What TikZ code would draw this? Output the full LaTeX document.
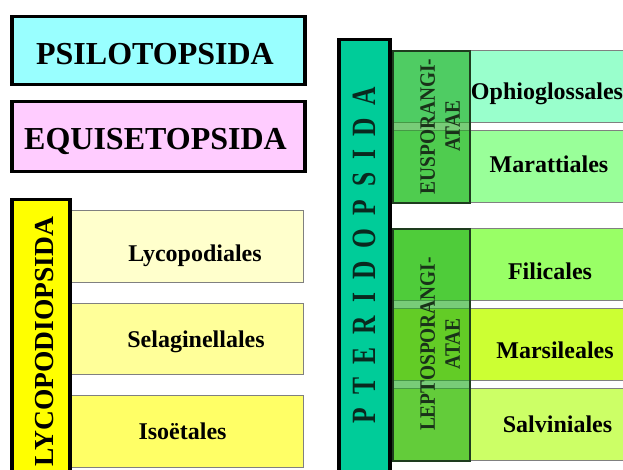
\documentclass[tikz,border=0pt]{standalone}
\usepackage{fontspec}
\setmainfont{Liberation Serif}
\usepackage{graphicx}

\definecolor{psilocol}{RGB}{153,255,255}
\definecolor{equicol}{RGB}{255,204,255}
\definecolor{lycocol}{RGB}{255,255,0}
\definecolor{lycoAcol}{RGB}{255,255,204}
\definecolor{lycoBcol}{RGB}{255,255,153}
\definecolor{lycoCcol}{RGB}{255,255,102}
\definecolor{ptercol}{RGB}{0,204,153}
\definecolor{ophiocol}{RGB}{153,255,204}
\definecolor{maracol}{RGB}{153,255,153}
\definecolor{filicol}{RGB}{153,255,102}
\definecolor{marsicol}{RGB}{204,255,51}
\definecolor{salvcol}{RGB}{204,255,102}
\definecolor{subcol}{RGB}{30,170,30}
\definecolor{subline}{RGB}{30,60,30}
\definecolor{subtext}{RGB}{25,50,25}
\definecolor{ptertext}{RGB}{10,40,30}

\newcommand{\sqz}[2]{\scalebox{#1}[1]{#2}}

\tikzset{
  classbox/.style={draw=black,line width=3.5pt,anchor=north west,inner sep=0pt},
  ordbox/.style={draw=gray,line width=0.8pt,anchor=north west,inner sep=0pt},
  subbox/.style={draw=subline,line width=2pt,fill=subcol,fill opacity=.6,anchor=north west,inner sep=0pt},
  bigtext/.style={font=\fontsize{32}{38}\selectfont\bfseries,anchor=base,inner sep=0pt},
  ordtext/.style={font=\fontsize{24}{28}\selectfont\bfseries,anchor=base,inner sep=0pt},
  subtext/.style={font=\fontsize{22}{25}\selectfont\bfseries,text=subtext,rotate=90,align=center,inner sep=0pt}
}

\begin{document}
\begin{tikzpicture}[x=1pt,y=-1pt]
\useasboundingbox (0,0) rectangle (623,470);
\clip (0,0) rectangle (623,470);

\node[name=psilo,classbox,fill=psilocol,minimum width=293pt,minimum height=68pt] at (10,15) {};
\node[name=equi,classbox,fill=equicol,minimum width=293pt,minimum height=70pt] at (10,100) {};
\node[name=psiloT,bigtext] at (155,65) {PSILOTOPSIDA};
\node[name=equiT,bigtext] at (155.5,150) {EQUISETOPSIDA};

\node[name=lycoA,ordbox,fill=lycoAcol,minimum width=235pt,minimum height=72pt] at (68,210) {};
\node[name=lycoB,ordbox,fill=lycoBcol,minimum width=235pt,minimum height=71pt] at (68,303) {};
\node[name=lycoC,ordbox,fill=lycoCcol,minimum width=235pt,minimum height=72pt] at (68,395) {};
\node[name=lyco,classbox,fill=lycocol,minimum width=58pt,minimum height=290pt] at (10,198) {};
\node[name=lycoT,font=\fontsize{27.5}{32}\selectfont\bfseries,rotate=90,anchor=base,inner sep=0pt] at (53,341.5) {LYCOPODIOPSIDA};
\node[name=lycoAT,ordtext] at (195,261) {Lycopodiales};
\node[name=lycoBT,ordtext] at (196,347) {Selaginellales};
\node[name=lycoCT,ordtext] at (182.5,439) {Isoëtales};

\node[name=ophio,ordbox,fill=ophiocol,minimum width=240pt,minimum height=72pt] at (392,50) {};
\node[name=mara,ordbox,fill=maracol,minimum width=240pt,minimum height=72pt] at (392,130) {};
\node[name=fili,ordbox,fill=filicol,minimum width=240pt,minimum height=72pt] at (392,228) {};
\node[name=marsi,ordbox,fill=marsicol,minimum width=240pt,minimum height=72pt] at (392,308) {};
\node[name=salv,ordbox,fill=salvcol,minimum width=240pt,minimum height=72pt] at (392,388) {};
\node[name=eus,subbox,minimum width=77pt,minimum height=152pt] at (392,50) {};
\node[name=lepto,subbox,minimum width=77pt,minimum height=232pt] at (392,228) {};
\node[name=pter,classbox,fill=ptercol,minimum width=51pt,minimum height=450pt] at (337,38) {};

\node[name=pterT,font=\fontsize{34}{40}\selectfont\bfseries,text=ptertext,rotate=90,anchor=base,inner sep=0pt] at (375,255)
  {\sqz{.75}{\spaceskip=17.4pt P T E R I D O P S I D A}};
\node[name=eusT,subtext] at (440,126.5) {\sqz{.88}{EUSPORANGI-}\\\sqz{.88}{ATAE}};
\node[name=leptoT,subtext] at (440,344) {\sqz{.88}{LEPTOSPORANGI-}\\\sqz{.88}{ATAE}};
\node[name=ophioT,ordtext] at (547,100) {Ophioglossales};
\node[name=maraT,ordtext] at (549,173) {Marattiales};
\node[name=filiT,ordtext] at (550,279) {Filicales};
\node[name=marsiT,ordtext] at (555,358) {Marsileales};
\node[name=salvT,ordtext] at (557.5,432) {Salviniales};
\end{tikzpicture}
\end{document}
